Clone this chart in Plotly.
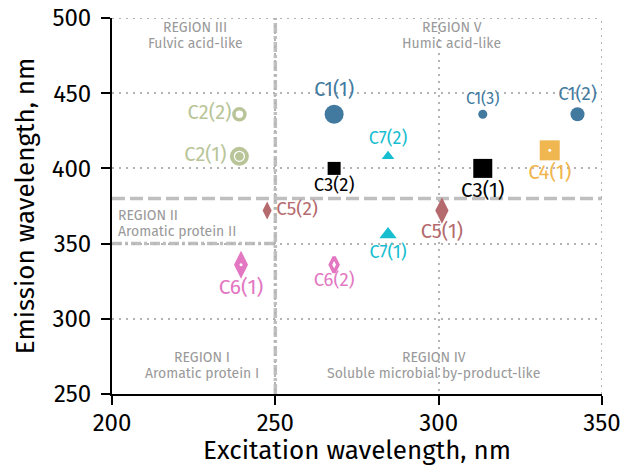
import plotly.graph_objects as go

# ---- data ----
labels = ["C1(1)", "C1(2)", "C1(3)", "C2(1)", "C2(2)", "C3(1)", "C3(2)",
          "C4(1)", "C5(1)", "C5(2)", "C6(1)", "C6(2)", "C7(1)", "C7(2)"]
excitation = [268, 342.5, 313.5, 239, 239, 313.5, 268,
              334, 301, 247.5, 239.5, 268, 284.5, 284.5]
emission = [436, 436, 436, 408, 436, 400, 400,
            412, 372, 372, 336, 336, 356, 408]

comp_colors = {"C1": "#427a9f", "C2": "#b9c599", "C3": "#000000", "C4": "#f0b650",
               "C5": "#b56a6d", "C6": "#e377c2", "C7": "#17becf"}
symbols = ["circle", "circle", "circle", "circle", "circle-open", "square", "square",
           "square", "diamond-tall", "diamond-tall", "diamond-tall", "diamond-tall-open",
           "triangle-up", "triangle-up"]
sizes = [19, 14, 9, 19, 11, 19, 13, 20, 19, 13, 20, 11, 15, 11]
label_sizes = [20, 18.5, 16, 20, 20, 20.5, 18.5, 20.5, 20, 19, 21, 18.5, 18, 18]
label_pos = ["top center", "top center", "top center", "middle left", "middle left",
             "bottom center", "bottom center", "bottom center", "bottom center",
             "middle right", "bottom center", "bottom center", "bottom center", "top center"]
white_dot_labels = ["C4(1)", "C6(1)"]
ring_labels = ["C2(1)"]

region_titles = ["REGION III", "REGION V", "REGION II", "REGION I", "REGION IV"]
region_subtitles = ["Fulvic acid-like", "Humic acid-like", "Aromatic protein II",
                    "Aromatic protein I", "Soluble microbial by-product-like"]
region_x = [225.5, 304, 201.2, 227.5, 298.5]
region_y = [488.5, 488.5, 363.5, 269, 269]
region_align = ["center", "center", "left", "center", "center"]

ex_boundary = 250          # vertical boundary (dash-dot)
em_boundary_main = 380     # horizontal boundary (dashed)
em_boundary_protein = 350  # horizontal boundary (dash-dot, left part)

x_range = [200, 350]
y_range = [250, 500]
x_ticks = [200, 250, 300, 350]
y_ticks = [250, 300, 350, 400, 450, 500]

FONT = "Fira Sans, Noto Sans, sans-serif"

colors = [comp_colors[l[:2]] for l in labels]

fig = go.Figure()

fig.add_trace(go.Scatter(
    x=excitation, y=emission, mode="markers+text", text=labels,
    textposition=label_pos,
    textfont=dict(family=FONT, size=label_sizes, color=colors),
    marker=dict(symbol=symbols, size=sizes, color=colors, opacity=1,
                line=dict(width=[3.5 if s.endswith("open") else 0 for s in symbols],
                          color=colors)),
    showlegend=False, hoverinfo="skip", cliponaxis=False,
))

ri = [labels.index(l) for l in ring_labels]
fig.add_trace(go.Scatter(
    x=[excitation[i] for i in ri], y=[emission[i] for i in ri], mode="markers",
    marker=dict(symbol="circle-open", size=10, color="white", opacity=1,
                line=dict(width=1.3, color="white")),
    showlegend=False, hoverinfo="skip",
))
di = [labels.index(l) for l in white_dot_labels]
fig.add_trace(go.Scatter(
    x=[excitation[i] for i in di], y=[emission[i] for i in di], mode="markers",
    marker=dict(symbol="circle", size=3, color="white", opacity=1),
    showlegend=False, hoverinfo="skip",
))

guide = "#bfbfbf"
grid_col = "#b3b3b3"
fig.add_shape(type="line", x0=ex_boundary, x1=ex_boundary, y0=y_range[0], y1=y_range[1],
              line=dict(color=guide, width=3.5, dash="10px,3px,3px,3px"), layer="below")
fig.add_shape(type="line", x0=x_range[0], x1=x_range[1], y0=em_boundary_main, y1=em_boundary_main,
              line=dict(color=guide, width=3.5, dash="13px,5px"), layer="below")
fig.add_shape(type="line", x0=x_range[0], x1=ex_boundary, y0=em_boundary_protein, y1=em_boundary_protein,
              line=dict(color=guide, width=3.5, dash="10px,3px,3px,3px"), layer="below")
fig.add_shape(type="line", x0=x_range[1], x1=x_range[1], y0=y_range[0], y1=y_range[1],
              line=dict(color=grid_col, width=2, dash="2px,5px"), layer="below")
fig.add_shape(type="line", x0=x_range[0], x1=x_range[1], y0=y_range[1], y1=y_range[1],
              line=dict(color=grid_col, width=2, dash="2px,5px"), layer="below")

for t, s, x, y, a in zip(region_titles, region_subtitles, region_x, region_y, region_align):
    xa = "left" if a == "left" else "center"
    fig.add_annotation(x=x, y=y, text=t, showarrow=False, xanchor=xa, yanchor="middle",
                       yshift=8, font=dict(family=FONT, size=14, color="#999999"))
    fig.add_annotation(x=x, y=y, text=s, showarrow=False, xanchor=xa, yanchor="middle",
                       yshift=-8, font=dict(family=FONT, size=14, color="#999999"))

axis_common = dict(showline=True, linecolor="black", linewidth=2,
                   ticks="outside", ticklen=9, tickwidth=2, tickcolor="black",
                   showgrid=True, gridcolor=grid_col, gridwidth=2, griddash="2px,5px",
                   zeroline=False, automargin=False, ticklabeloverflow="allow",
                   tickfont=dict(family=FONT, size=24, color="black"),
                   title_font=dict(family=FONT, size=26, color="black"))

fig.update_xaxes(range=x_range, tickvals=x_ticks, title_text="Excitation wavelength, nm",
                 title_standoff=17, ticklabelstandoff=-3, **axis_common)
fig.update_yaxes(range=y_range, tickvals=y_ticks, title_text="Emission wavelength, nm",
                 title_standoff=10, ticklabelstandoff=5, **axis_common)

# page has an 8px body margin, so the figure is sized to fit the 639x474 window
fig.update_layout(width=623, height=458, margin=dict(l=104, r=29, t=10, b=72),
                  plot_bgcolor="white", paper_bgcolor="white",
                  font=dict(family=FONT))

fig.write_html("out.html")
